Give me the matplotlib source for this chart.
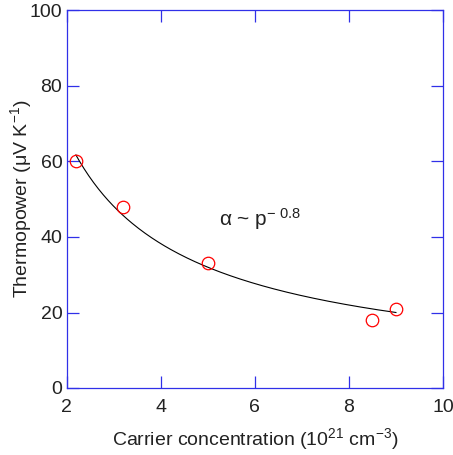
#!/usr/bin/env python3
import numpy as np
import matplotlib

matplotlib.use("Agg")
import matplotlib.pyplot as plt

plt.rcParams["font.family"] = ["Liberation Sans", "DejaVu Sans"]
plt.rcParams["mathtext.fontset"] = "custom"
plt.rcParams["mathtext.rm"] = "Liberation Sans"
plt.rcParams["mathtext.it"] = "Liberation Sans"

# Dati misurati: concentrazione portatori e potere termoelettrico
carrier = [2.2, 3.2, 5.0, 8.5, 9.0]          # 10^21 cm^-3
thermopower = [60.0, 48.0, 33.0, 18.0, 21.0]  # uV/K

# Fit a legge di potenza: alpha = A * p^(-0.8)
FIT_PREFACTOR = 116.0
FIT_EXPONENT = -0.8
FIT_RANGE = [2.2, 9.0]

AXIS_BLUE = "#3030e8"
TEXT_COLOR = "#222222"


def main():
    fig = plt.figure(figsize=(4.53, 4.55), dpi=100)
    ax = fig.add_axes([66.5 / 453, 1 - 388 / 455, 376.5 / 453, 377.5 / 455])

    p = np.linspace(FIT_RANGE[0], FIT_RANGE[1], 200)
    ax.plot(p, FIT_PREFACTOR * p ** FIT_EXPONENT, color="black", linewidth=0.8)

    ax.plot(carrier, thermopower, linestyle="none", marker="o", markersize=9,
            markerfacecolor="none", markeredgecolor="red", markeredgewidth=0.9)

    ax.text(5.25, 43, r"$\alpha$ ~ p$^{-\ 0.8}$", fontsize=15, color=TEXT_COLOR)

    ax.set_xlim(2, 10)
    ax.set_ylim(0, 100)
    ax.set_xticks([2, 4, 6, 8, 10])
    ax.set_yticks([0, 20, 40, 60, 80, 100])

    for side in ax.spines.values():
        side.set_color(AXIS_BLUE)
        side.set_linewidth(0.9)
    ax.tick_params(direction="in", length=8.5, width=0.9, color=AXIS_BLUE,
                   top=True, right=True, labelsize=14, labelcolor=TEXT_COLOR)
    ax.tick_params(axis="x", pad=8)
    ax.tick_params(axis="y", pad=3)

    ax.set_xlabel(r"Carrier concentration (10$^{21}$ cm$^{-3}$)",
                  fontsize=14, color=TEXT_COLOR, labelpad=7)
    ax.set_ylabel(r"Thermopower ($\mu$V K$^{-1}$)",
                  fontsize=14, color=TEXT_COLOR, labelpad=-3)

    fig.savefig("out.png", dpi=100)
    plt.close(fig)
    return 0


if __name__ == "__main__":
    raise SystemExit(main())
